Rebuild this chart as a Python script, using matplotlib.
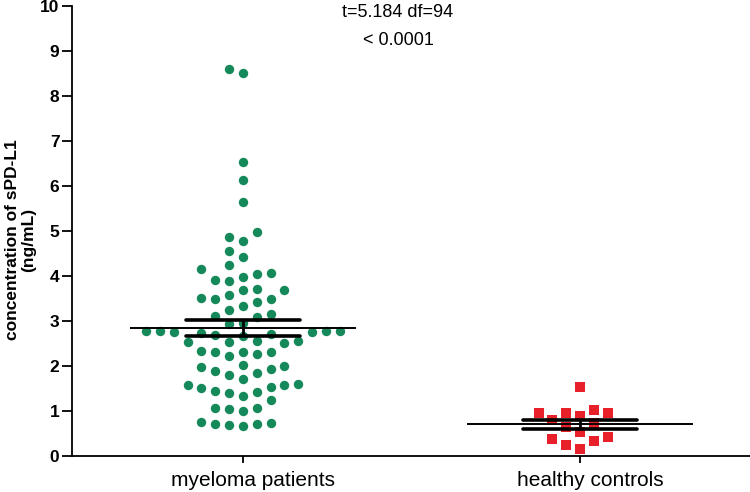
import numpy as np
import matplotlib
matplotlib.use("Agg")
import matplotlib.pyplot as plt

plt.rcParams['font.family'] = ['Liberation Sans', 'DejaVu Sans']

# values (ng/mL)
groups = ["myeloma patients", "healthy controls"]
myeloma = [8.51, 8.60, 6.53, 6.13, 5.64, 4.98, 4.87, 4.78, 4.56, 4.42, 4.24,
           4.16, 4.07, 4.04, 3.98, 3.91, 3.89,
           3.71, 3.69, 3.69, 3.58,
           3.51, 3.49, 3.49, 3.42, 3.33, 3.24,
           3.16, 3.11, 3.09, 2.96, 2.93,
           2.78, 2.78, 2.77, 2.76, 2.73, 2.71, 2.75, 2.78, 2.69, 2.67,
           2.56, 2.56, 2.53, 2.53, 2.51,
           2.33, 2.31, 2.31, 2.31, 2.27, 2.22,
           2.02, 1.99, 1.97, 1.93, 1.89, 1.84, 1.80, 1.71,
           1.60, 1.58, 1.58, 1.53, 1.51, 1.44, 1.42, 1.40, 1.33, 1.24,
           1.07, 1.07, 1.04, 1.00,
           0.76, 0.73, 0.71, 0.71, 0.69, 0.67]
controls = [1.53, 1.02, 0.96, 0.96, 0.96, 0.89, 0.80, 0.73, 0.64, 0.53,
            0.42, 0.38, 0.33, 0.24, 0.16]
stat_line1 = "t=5.184 df=94"
stat_line2 = "< 0.0001"


def swarm(vals, step=0.041, gap=0.29):
    # place points in discrete columns, nearest to the centre first
    order = np.argsort(vals)
    placed = []
    offs = np.zeros(len(vals))
    for i in order:
        v = vals[i]
        k = 0
        done = False
        while not done:
            for c in ([0] if k == 0 else [-k, k]):
                if all(not (pc == c and abs(pv - v) < gap) for pc, pv in placed):
                    offs[i] = c * step
                    placed.append((c, v))
                    done = True
                    break
            k += 1
    return offs


fig = plt.figure(figsize=(7.5, 4.92), dpi=100)
ax = fig.add_axes([0.096, 0.0732, 0.904, 0.9146])

styles = [dict(marker="o", color="#16895A"), dict(marker="s", color="#E8202A")]
for i, (vals, st) in enumerate(zip([myeloma, controls], styles)):
    vals = np.array(vals)
    x = i + swarm(vals)
    ax.scatter(x, vals, s=46, marker=st["marker"], color=st["color"],
               linewidths=0, zorder=2)
    m = vals.mean()
    sem = vals.std(ddof=1) / np.sqrt(len(vals))
    ax.hlines(m, i - 0.335, i + 0.335, color="black", lw=1.4, zorder=3)
    ax.hlines([m - sem, m + sem], i - 0.17, i + 0.17, color="black", lw=2.6,
              zorder=3, capstyle="round")
    ax.vlines(i, m - sem, m + sem, color="black", lw=2, zorder=3)

ax.text(0.46, 9.85, stat_line1, ha="center", va="center", fontsize=13)
ax.text(0.46, 9.23, stat_line2, ha="center", va="center", fontsize=13)

ax.set_xlim(-0.507, 1.504)
ax.set_ylim(0, 10)
ax.set_yticks(range(0, 11))
# tick marks on the categories, labels a little to the right (as in original)
ax.set_xticks([0, 1])
ax.set_xticklabels(["", ""])
ax.set_xticks([0.03, 1.03], minor=True)
ax.set_xticklabels(groups, minor=True, fontsize=15)
for lbl in ax.get_yticklabels():
    lbl.set_fontweight("bold")
    lbl.set_fontsize(12.5)
ax.set_ylabel("concentration of sPD-L1\n(ng/mL)", fontsize=12.5,
              fontweight="bold", linespacing=1.05)
ax.yaxis.set_label_coords(-0.053, 0.48)
ax.spines["top"].set_visible(False)
ax.spines["right"].set_visible(False)
ax.spines["left"].set_linewidth(1.3)
ax.spines["bottom"].set_linewidth(1.3)
ax.tick_params(axis="y", length=7, width=1.3, pad=2)
ax.tick_params(axis="x", which="major", length=5, width=1.3)
ax.tick_params(axis="x", which="minor", length=0, pad=11)

fig.savefig("out.png", dpi=100)
